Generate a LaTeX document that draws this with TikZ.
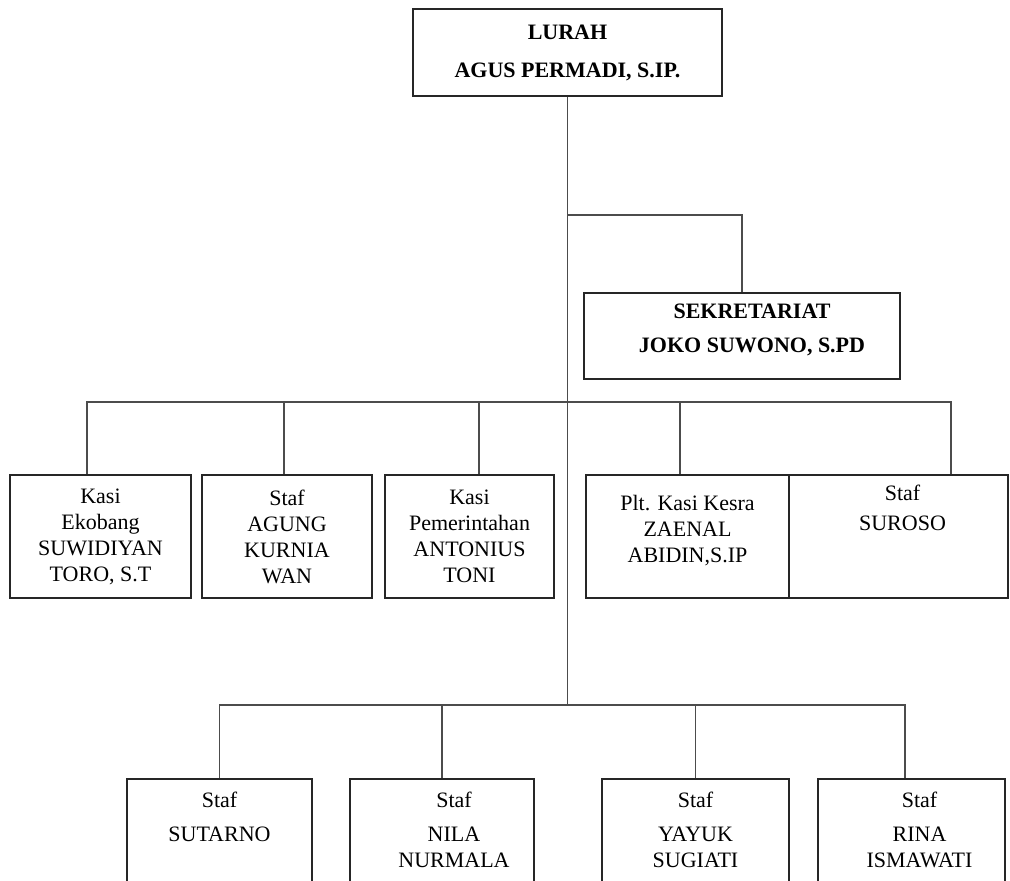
\documentclass[tikz,border=0pt]{standalone}
\usepackage{fontspec}
\setmainfont{Liberation Serif}
\usetikzlibrary{calc}

\tikzset{
	unitbox/.style={draw=black!85, line width=0.6pt, rectangle, inner sep=0pt, align=center},
	boxtext/.style={anchor=north, align=center, inner sep=0pt},
	boldfont/.style={font=\fontsize{11}{13}\selectfont\bfseries},
	link/.style={draw=black!70, line width=0.8pt},
}

\begin{document}
\begin{tikzpicture}[x=0.5pt,y=-0.5pt,font=\fontsize{11}{13}\selectfont]
		\path[use as bounding box,clip] (0,0) rectangle (1010,880);

		% pimpinan
		\node[unitbox,boldfont,minimum width=154.5pt,minimum height=43.5pt] (lurah) at (567.5,52.5)
			{LURAH\\[6pt]AGUS PERMADI, S.IP.};
		\node[unitbox,minimum width=158pt,minimum height=43pt,
			label={[boxtext,boldfont,anchor=center,xshift=5pt,yshift=3pt]center:SEKRETARIAT\\[4pt]JOKO SUWONO, S.PD}]
			(sekr) at (742,336) {};

		% kasi dan staf tengah
		\node[unitbox,minimum width=90.5pt,minimum height=61.5pt] (ekobang) at (100.5,536.5)
			{Kasi\\Ekobang\\SUWIDIYAN\\TORO, S.T};
		\node[unitbox,minimum width=85pt,minimum height=61.5pt] (agung) at (287,536.5)
			{Staf\\AGUNG\\KURNIA\\WAN};
		\node[unitbox,minimum width=84.5pt,minimum height=61.5pt] (pemerintahan) at (469.5,536.5)
			{Kasi\\Pemerintahan\\ANTONIUS\\TONI};
		\node[unitbox,minimum width=101.5pt,minimum height=61.5pt,
			label={[boxtext,yshift=-10pt]north:Plt. Kasi Kesra\\ZAENAL\\ABIDIN,S.IP}] (kesra) at (687.5,536.5) {};
		\node[unitbox,minimum width=109.5pt,minimum height=61.5pt,
			label={[boxtext,xshift=2pt,yshift=-5pt]north:Staf\\[2pt]SUROSO}] (suroso) at (898.5,536.5) {};

		% staf bawah
		\node[unitbox,minimum width=92.5pt,minimum height=60.5pt,
			label={[boxtext,yshift=-6.5pt]north:Staf\\[4pt]SUTARNO}] (sutarno) at (219.5,839.5) {};
		\node[unitbox,minimum width=92pt,minimum height=60.5pt,
			label={[boxtext,xshift=6pt,yshift=-6.5pt]north:Staf\\[4pt]NILA\\NURMALA}] (nila) at (442,839.5) {};
		\node[unitbox,minimum width=93.5pt,minimum height=60.5pt,
			label={[boxtext,yshift=-6.5pt]north:Staf\\[4pt]YAYUK\\SUGIATI}] (yayuk) at (695.5,839.5) {};
		\node[unitbox,minimum width=93.5pt,minimum height=60.5pt,
			label={[boxtext,xshift=4pt,yshift=-6.5pt]north:Staf\\[4pt]RINA\\ISMAWATI}] (rina) at (911.5,839.5) {};

		% garis
		\coordinate (sekjoint) at (lurah.south |- 0,215);
		\coordinate (midbus) at (lurah.south |- 0,402);
		\coordinate (lowbus) at (lurah.south |- 0,705);
		\coordinate (ekoTop) at ([xshift=-6.75pt]ekobang.north);
		\coordinate (agungTop) at ([xshift=-1.5pt]agung.north);
		\coordinate (pemTop) at ([xshift=4.75pt]pemerintahan.north);
		\coordinate (kesraTop) at ([xshift=-3.75pt]kesra.north);
		\coordinate (surosoTop) at ([xshift=26.25pt]suroso.north);
		\coordinate (rinaTop) at ([xshift=-3.25pt]rina.north);

		\draw[link] (lurah.south) -- (lowbus);
		\draw[link] (sekjoint) -| (sekr.north);
		\draw[link] (ekoTop) |- (surosoTop |- midbus) -- (surosoTop);
		\foreach \t in {agungTop,pemTop,kesraTop}
			\draw[link] (\t |- midbus) -- (\t);
		\draw[link] (sutarno.north) |- (rinaTop |- lowbus) -- (rinaTop);
		\foreach \n in {nila,yayuk}
			\draw[link] (\n.north |- lowbus) -- (\n.north);
	\end{tikzpicture}
\end{document}
